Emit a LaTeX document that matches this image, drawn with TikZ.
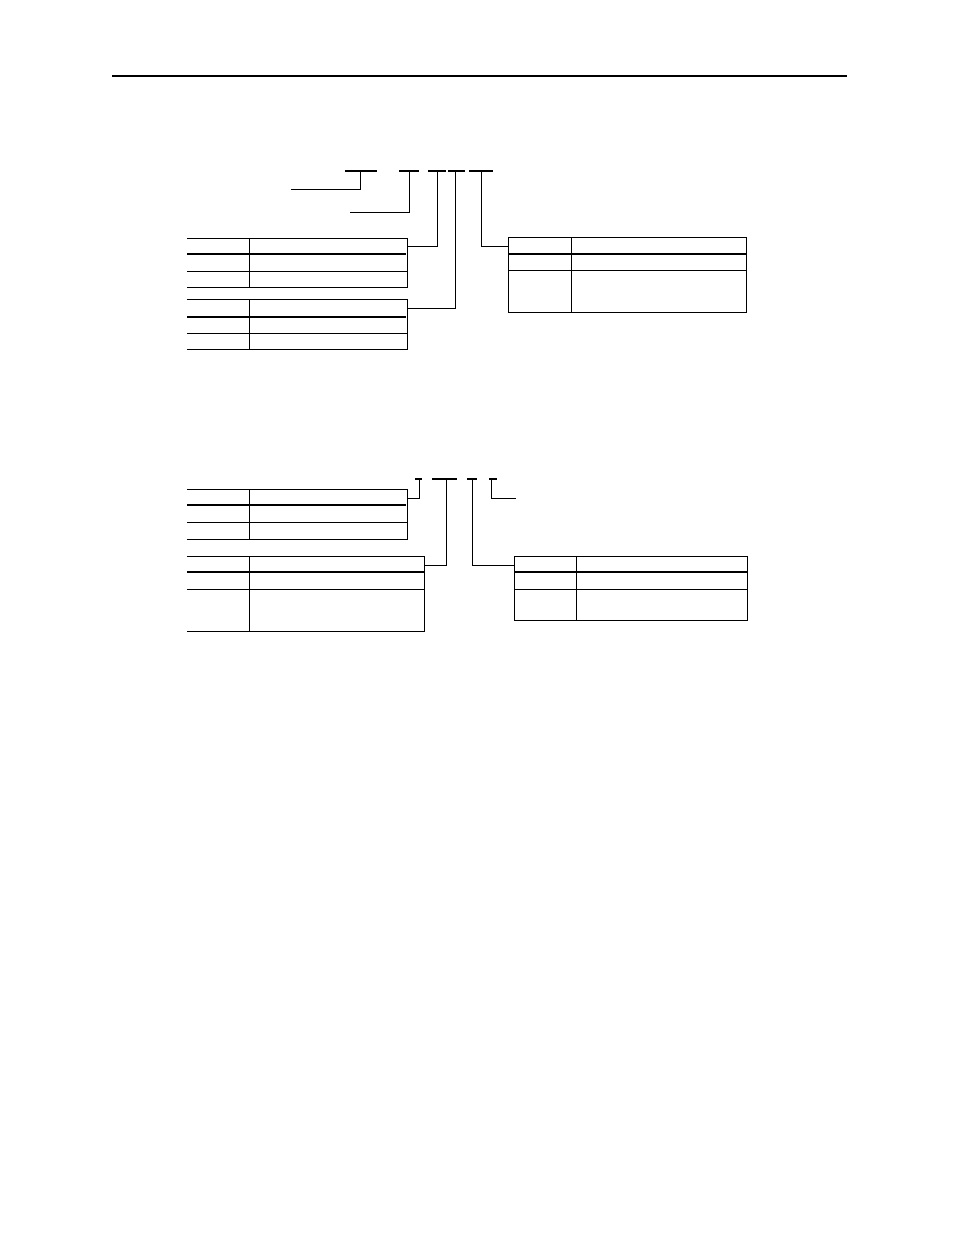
\documentclass[tikz,border=0pt]{standalone}
\begin{document}
\begin{tikzpicture}[x=1pt,y=-1pt,
  thin line/.style={line width=1pt,line cap=rect},
  thick line/.style={line width=2pt},
  lead/.style={line width=1pt},
  bar/.style={line width=2pt}]
\useasboundingbox (0,0) rectangle (954,1235);
% header rule
\draw[line width=2pt] (112,75.5) -- (847,75.5);

% ---- upper group: bars and leaders
\draw[bar] (345,171) -- (377,171);
\draw[lead] (360,171) -- (360,189) -- (291,189);
\draw[bar] (399,171) -- (419,171);
\draw[lead] (409,171) -- (409,212) -- (350,212);
\draw[bar] (428,171) -- (446,171);
\draw[lead] (437,171) -- (437,246) -- (407,246);
\draw[bar] (448,171) -- (465,171);
\draw[lead] (455,171) -- (455,308) -- (407,308);
\draw[bar] (469,171) -- (493,171);
\draw[lead] (481,171) -- (481,246) -- (508,246);

% table 1 (open left)
\draw[thin line] (187,238) -- (407,238) -- (407,287) -- (187,287);
\draw[thin line] (187,271) -- (407,271);
\draw[thin line] (249,238) -- (249,287);
\draw[thick line] (187,254) -- (406,254);

% table 2 (open left)
\draw[thin line] (187,299) -- (407,299) -- (407,349) -- (187,349);
\draw[thin line] (187,333) -- (407,333);
\draw[thin line] (249,299) -- (249,349);
\draw[thick line] (187,317) -- (406,317);

% table 3 (closed)
\draw[thin line] (508,237) rectangle (746,312);
\draw[thin line] (508,270) -- (746,270);
\draw[thin line] (571,237) -- (571,312);
\draw[thick line] (508,254) -- (746,254);

% ---- lower group: bars and leaders
\draw[bar] (415,479) -- (422,479);
\draw[lead] (419,479) -- (419,498) -- (407,498);
\draw[bar] (432,479) -- (457,479);
\draw[lead] (446,479) -- (446,565) -- (424,565);
\draw[bar] (467,479) -- (477,479);
\draw[lead] (472,479) -- (472,565) -- (514,565);
\draw[bar] (489,479) -- (497,479);
\draw[lead] (491,479) -- (491,498) -- (516,498);

% table 4 (open left)
\draw[thin line] (187,489) -- (407,489) -- (407,539) -- (187,539);
\draw[thin line] (187,522) -- (407,522);
\draw[thin line] (249,489) -- (249,539);
\draw[thick line] (187,505) -- (406,505);

% table 5 (open left)
\draw[thin line] (187,556) -- (424,556) -- (424,631) -- (187,631);
\draw[thin line] (187,589) -- (424,589);
\draw[thin line] (249,556) -- (249,631);
\draw[thick line] (187,572) -- (424,572);

% table 6 (closed)
\draw[thin line] (514,556) rectangle (747,620);
\draw[thin line] (514,589) -- (747,589);
\draw[thin line] (576,556) -- (576,620);
\draw[thick line] (514,572) -- (747,572);
\end{tikzpicture}
\end{document}
